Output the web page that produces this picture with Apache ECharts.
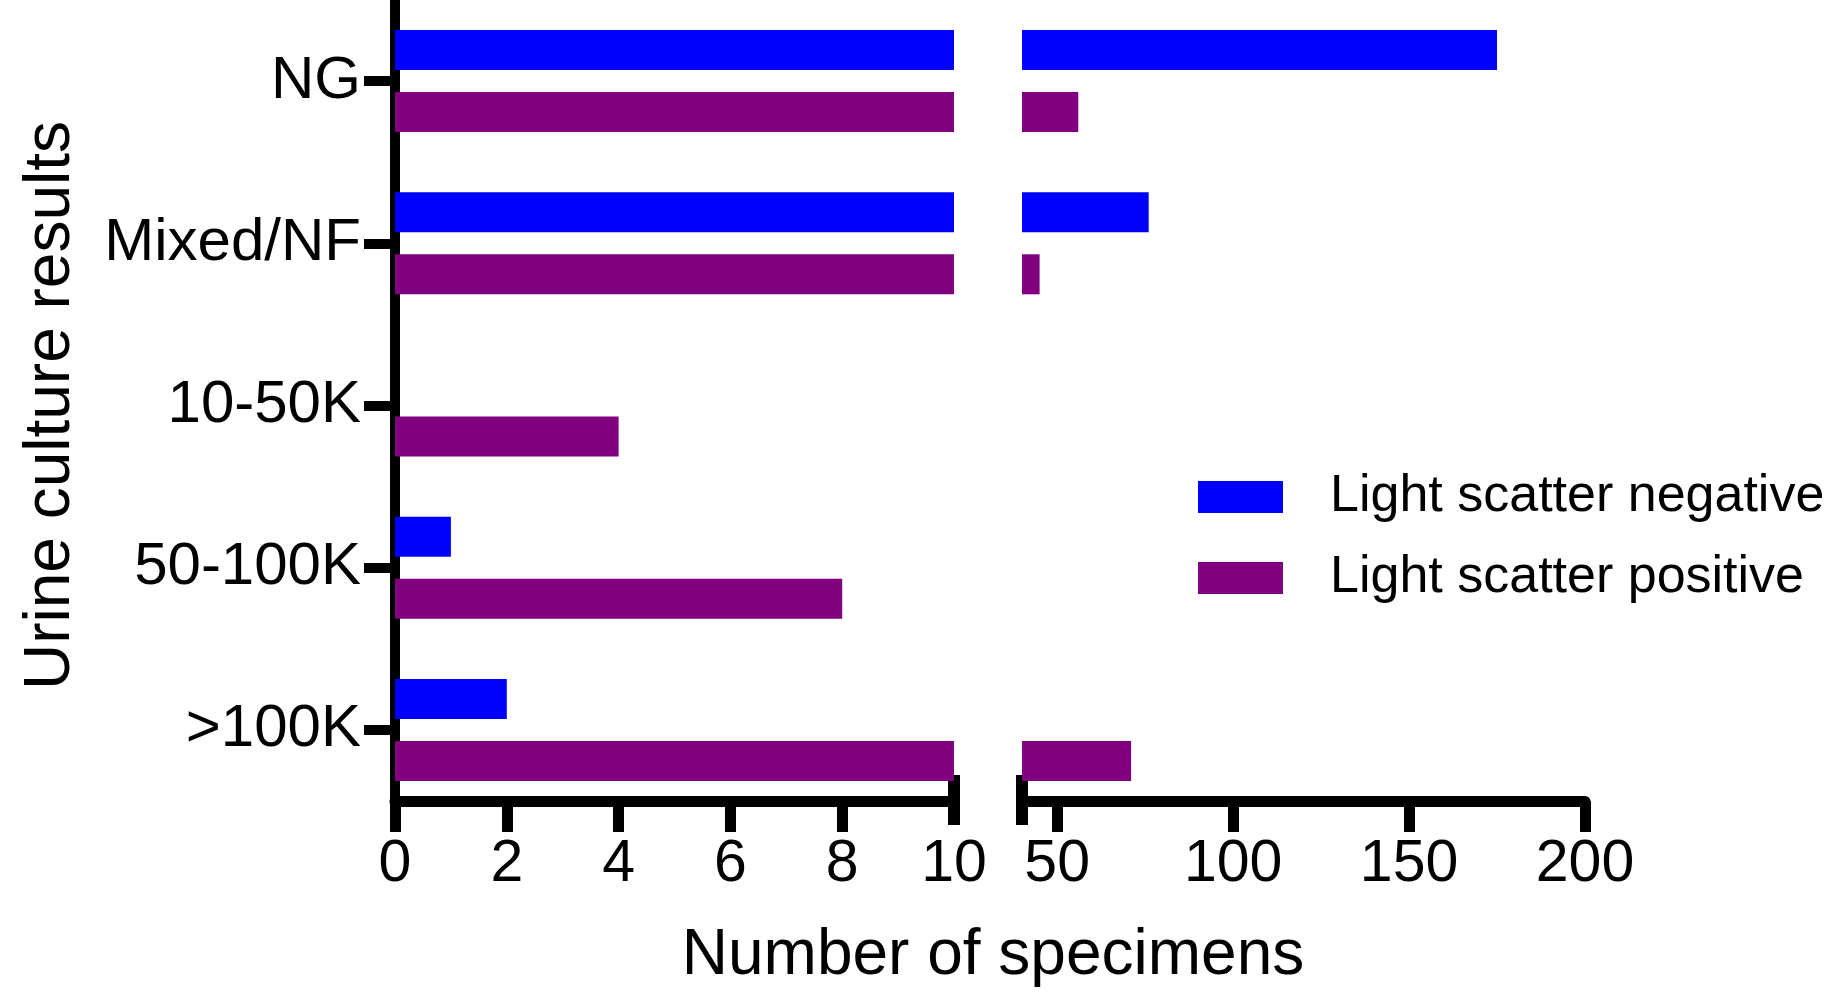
<!DOCTYPE html>
<html>
<head>
<meta charset="utf-8">
<script src="https://cdn.jsdelivr.net/npm/echarts@6.0.0/dist/echarts.min.js"></script>
<style>
html,body{margin:0;padding:0;background:#fff;}
#chart{width:1844px;height:992px;}
</style>
</head>
<body>
<div id="chart"></div>
<script>
// ---- data ----
var categories = ['NG', 'Mixed/NF', '10-50K', '50-100K', '>100K'];
var negativeCounts = [175, 76, 0, 1, 2];
var positiveCounts = [56, 45, 4, 8, 71];
var seriesNames = ['Light scatter negative', 'Light scatter positive'];
var leftTicks = [0, 2, 4, 6, 8];
var rightTicks = [50, 100, 150, 200];
var leftRange = [0, 10];
var rightRange = [40, 200];

var FONT = "'Liberation Sans', Arial, Helvetica, sans-serif";
var BLUE = '#0000ff';
var PURPLE = '#800080';

var chart = echarts.init(document.getElementById('chart'), null, {renderer: 'canvas'});

function catAxis(gridIndex, show) {
  return {
    type: 'category',
    gridIndex: gridIndex,
    data: categories,
    inverse: true,
    show: show,
    name: show ? 'Urine culture results' : '',
    nameLocation: 'middle',
    nameRotate: 90,
    nameGap: 312,
    nameTextStyle: {fontFamily: FONT, fontSize: 64, color: '#000'},
    axisLine: {show: show, lineStyle: {color: '#000', width: 10}},
    axisTick: {show: show, alignWithLabel: true, length: 31, lineStyle: {color: '#000', width: 10}},
    axisLabel: {show: show, fontFamily: FONT, fontSize: 60, color: '#000', margin: 34},
    splitLine: {show: false}
  };
}

var option = {
  backgroundColor: '#fff',
  animation: false,
  grid: [
    {left: 395, width: 559, top: 0, height: 811},
    {left: 1022, width: 563, top: 0, height: 811}
  ],
  legend: {
    orient: 'vertical',
    left: 1193,
    top: 466,
    icon: 'rect',
    itemWidth: 85,
    itemHeight: 32,
    itemGap: 29,
    data: seriesNames,
    textStyle: {fontFamily: FONT, fontSize: 52, color: '#000', padding: [0, 0, 0, 42]}
  },
  xAxis: [
    {
      type: 'value', gridIndex: 0, position: 'bottom', min: leftRange[0], max: leftRange[1], interval: 2,
      offset: -10,
      axisLine: {show: true, lineStyle: {color: '#000', width: 11}},
      axisTick: {show: true, length: 31, customValues: leftTicks, lineStyle: {color: '#000', width: 11}},
      axisLabel: {fontFamily: FONT, fontSize: 59, color: '#000', margin: 34},
      splitLine: {show: false}
    },
    {
      type: 'value', gridIndex: 1, position: 'bottom', min: rightRange[0], max: rightRange[1],
      offset: -10,
      axisLine: {show: true, lineStyle: {color: '#000', width: 11}},
      axisTick: {show: true, length: 31, customValues: rightTicks, lineStyle: {color: '#000', width: 11}},
      axisLabel: {fontFamily: FONT, fontSize: 59, color: '#000', margin: 34, customValues: rightTicks},
      splitLine: {show: false}
    },
    {
      // break mark at end of left segment
      type: 'value', gridIndex: 0, position: 'bottom', min: leftRange[0], max: leftRange[1],
      offset: 14,
      axisLine: {show: false},
      axisTick: {show: true, inside: true, length: 50, customValues: [leftRange[1]], lineStyle: {color: '#000', width: 12}},
      axisLabel: {show: false},
      splitLine: {show: false}
    },
    {
      // break mark at start of right segment
      type: 'value', gridIndex: 1, position: 'bottom', min: rightRange[0], max: rightRange[1],
      offset: 14,
      axisLine: {show: false},
      axisTick: {show: true, inside: true, length: 50, customValues: [rightRange[0]], lineStyle: {color: '#000', width: 12}},
      axisLabel: {show: false},
      splitLine: {show: false}
    }
  ],
  yAxis: [catAxis(0, true), catAxis(1, false)],
  graphic: [
    {
      type: 'text',
      x: 993, y: 956,
      style: {
        text: 'Number of specimens',
        font: '64px ' + FONT,
        fill: '#000',
        textAlign: 'center',
        textVerticalAlign: 'middle'
      }
    }
  ],
  series: [
    {name: seriesNames[0], type: 'bar', xAxisIndex: 0, yAxisIndex: 0, data: negativeCounts,
     barWidth: 40, barGap: '55%', clip: true, itemStyle: {color: BLUE}, z: 1},
    {name: seriesNames[1], type: 'bar', xAxisIndex: 0, yAxisIndex: 0, data: positiveCounts,
     barWidth: 40, barGap: '55%', clip: true, itemStyle: {color: PURPLE}, z: 1},
    {name: seriesNames[0], type: 'bar', xAxisIndex: 1, yAxisIndex: 1, data: negativeCounts,
     barWidth: 40, barGap: '55%', clip: true, itemStyle: {color: BLUE}, z: 1},
    {name: seriesNames[1], type: 'bar', xAxisIndex: 1, yAxisIndex: 1, data: positiveCounts,
     barWidth: 40, barGap: '55%', clip: true, itemStyle: {color: PURPLE}, z: 1}
  ]
};
chart.setOption(option);
</script>
</body>
</html>
